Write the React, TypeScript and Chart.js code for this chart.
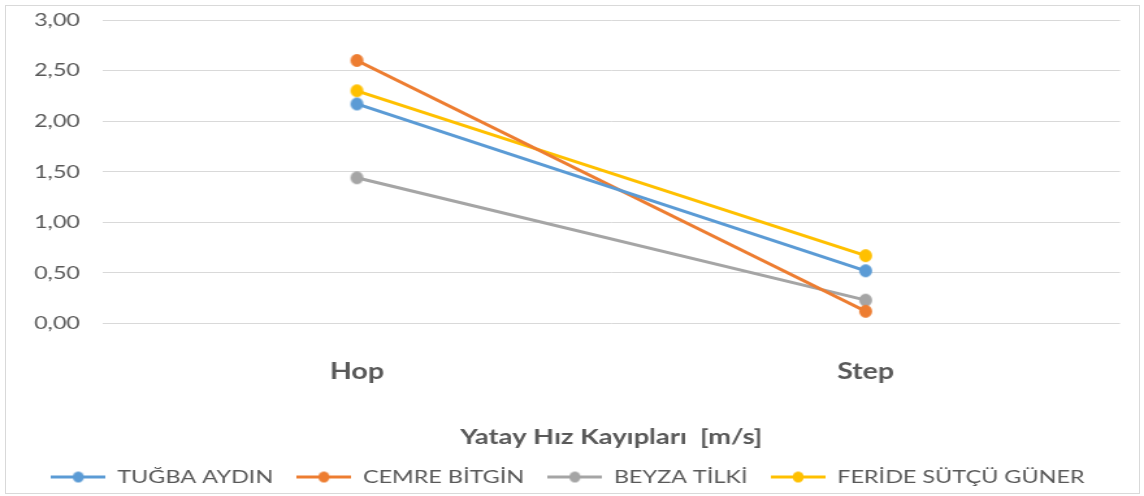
import React, { useEffect, useRef } from "react";
import { Chart, registerables } from "chart.js";

Chart.register(...registerables);

// ---- data ----
const categories: string[] = ["Hop", "Step"];
const seriesNames: string[] = ["TUĞBA AYDIN", "CEMRE BİTGİN", "BEYZA TİLKİ", "FERİDE SÜTÇÜ GÜNER"];
const tugbaValues: number[] = [2.17, 0.52];
const cemreValues: number[] = [2.6, 0.12];
const beyzaValues: number[] = [1.44, 0.23];
const ferideValues: number[] = [2.3, 0.67];
const seriesColors: string[] = ["#5B9BD5", "#ED7D31", "#A5A5A5", "#FFC000"];
const yMin = 0;
const yMax = 3;
const yStep = 0.5;
const xTitle = "Yatay Hız Kayıpları  [m/s]";

// ---- layout ----
const W = 1144;
const H = 496;
const SX = 1.3; // horizontal stretch of the drawing
const IW = Math.round(W / SX);
const FONT = "Lato, 'Open Sans', sans-serif";
const TEXT = "#595959";

function markerImage(color: string, r: number): HTMLCanvasElement {
  const c = document.createElement("canvas");
  const w = Math.ceil((2 * r) / SX) + 2;
  const h = 2 * r + 2;
  c.width = w;
  c.height = h;
  const ctx = c.getContext("2d")!;
  ctx.fillStyle = color;
  ctx.beginPath();
  ctx.ellipse(w / 2, h / 2, r / SX, r, 0, 0, Math.PI * 2);
  ctx.fill();
  return c;
}

function legendImage(color: string, len: number, r: number): HTMLCanvasElement {
  const c = document.createElement("canvas");
  const h = 2 * r + 2;
  c.width = len;
  c.height = h;
  const ctx = c.getContext("2d")!;
  ctx.strokeStyle = color;
  ctx.lineWidth = 3;
  ctx.beginPath();
  ctx.moveTo(0, h / 2);
  ctx.lineTo(len, h / 2);
  ctx.stroke();
  ctx.fillStyle = color;
  ctx.beginPath();
  ctx.ellipse(len / 2, h / 2, r / SX, r, 0, 0, Math.PI * 2);
  ctx.fill();
  return c;
}

const legendShift = {
  id: "legendShift",
  afterLayout(chart: any) {
    if (chart.legend) {
      chart.legend.left += 6;
      chart.legend.right += 6;
    }
  },
};

export default function App() {
  const ref = useRef<HTMLCanvasElement | null>(null);

  useEffect(() => {
    if (!ref.current) return;
    const values = [tugbaValues, cemreValues, beyzaValues, ferideValues];
    const legendImgs = seriesColors.map((c) => legendImage(c, 42, 5.5));
    const chart = new Chart(ref.current, {
      type: "line",
      data: {
        labels: categories,
        datasets: seriesNames.map((name, i) => ({
          label: name,
          data: values[i],
          borderColor: seriesColors[i],
          backgroundColor: seriesColors[i],
          borderWidth: 3,
          pointStyle: markerImage(seriesColors[i], 6.5),
          pointRadius: 6,
          tension: 0,
          fill: false,
        })),
      },
      options: {
        responsive: false,
        animation: false,
        devicePixelRatio: 1,
        layout: { autoPadding: false, padding: { left: 0, right: IW - 1120 / SX, top: 20, bottom: 0 } },
        scales: {
          x: {
            offset: true,
            grid: { display: false, drawTicks: false, offset: true },
            border: { display: false },
            ticks: { color: TEXT, font: { family: FONT, size: 22, weight: "bold" }, padding: 35 },
            title: {
              display: true,
              text: xTitle,
              color: TEXT,
              font: { family: FONT, size: 21, weight: "bold" },
              padding: { top: 5, bottom: 0 },
            },
          },
          y: {
            min: yMin,
            max: yMax,
            grid: { color: "#d9d9d9", lineWidth: 1, drawTicks: false },
            border: { display: false },
            ticks: {
              stepSize: yStep,
              color: TEXT,
              font: { family: FONT, size: 18 },
              padding: 102.5 / SX - 80 / SX,
              callback: (v: any) => Number(v).toFixed(2).replace(".", ","),
            },
            afterFit: (s: any) => {
              s.width = 102.5 / SX;
              s.paddingTop = 0;
              s.paddingBottom = 0;
            },
          },
        },
        plugins: {
          tooltip: { enabled: false },
          legend: {
            position: "bottom",
            labels: {
              usePointStyle: true,
              pointStyleWidth: 42,
              padding: 18,
              color: TEXT,
              font: { family: FONT, size: 18 },
              generateLabels: (ch: any) => {
                const items = (Chart.defaults.plugins.legend.labels as any).generateLabels(ch);
                items.forEach((it: any, i: number) => {
                  it.pointStyle = legendImgs[i];
                });
                return items;
              },
            },
          },
        },
      } as any,
      plugins: [legendShift],
    });
    return () => chart.destroy();
  }, []);

  return (
    <div style={{ position: "fixed", left: 0, top: 0, width: W, height: H, background: "#fff" }}>
      <canvas ref={ref} width={IW} height={H} style={{ width: W, height: H, display: "block" }} />
      <div
        style={{
          position: "absolute",
          left: 5,
          top: 5,
          width: 1133,
          height: 487,
          border: "1px solid #d9d9d9",
          pointerEvents: "none",
        }}
      />
    </div>
  );
}
